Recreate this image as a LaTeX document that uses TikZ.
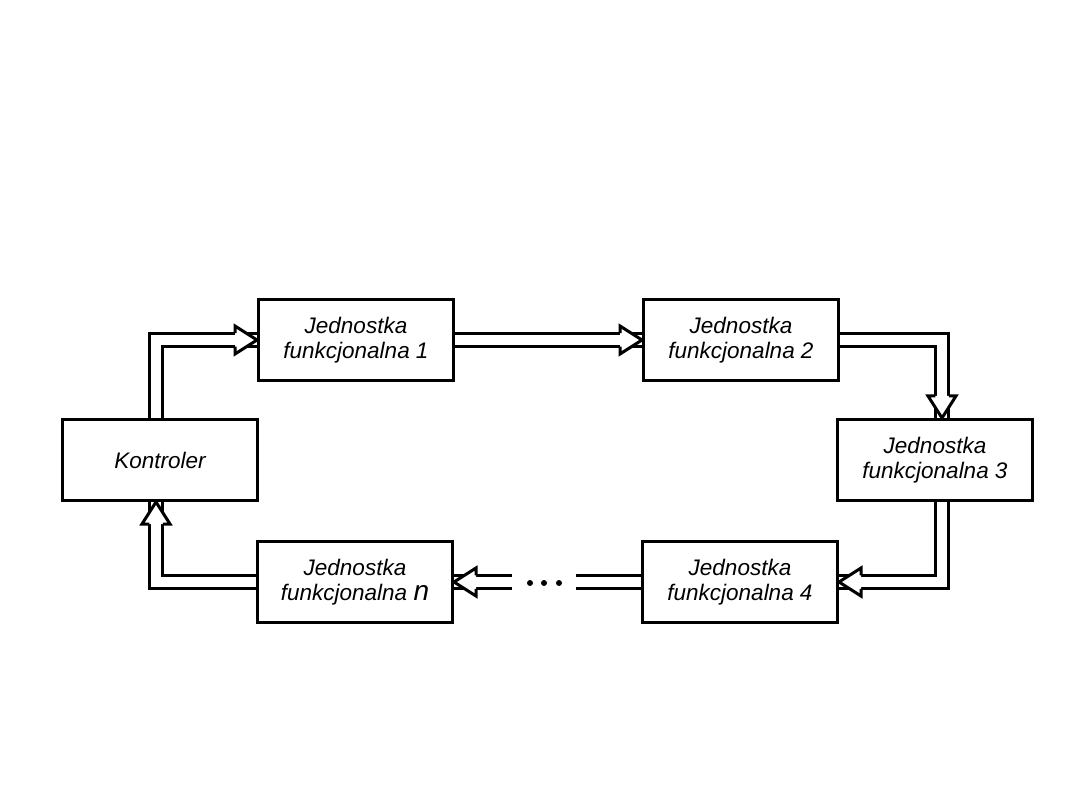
\documentclass[tikz,border=0pt]{standalone}
\usepackage{fontspec}
\setmainfont{Liberation Sans}
\usetikzlibrary{calc}
\begin{document}
\begin{tikzpicture}[x=1pt,y=-1pt,
  unit/.style={draw, line width=3pt, minimum width=195pt, minimum height=81pt,
    inner sep=0pt, align=center, fill=white,
    font=\fontsize{22.5}{25}\selectfont\itshape},
  dbl/.style={double, line width=3pt, double distance=10.5pt, line join=miter},
  dotmark/.style={circle, fill, inner sep=0pt, minimum size=6pt},
  head/.pic={
    \fill[white] (-22,14) -- (0,0) -- (-22,-14) -- cycle;
    \draw[line width=3pt, line join=miter] (-22,6.75) -- (-22,14) -- (0,0) -- (-22,-14) -- (-22,-6.75);
  }
]
\useasboundingbox (0,0) rectangle (1080,810);
\node[unit] (K)  at (160,460) {Kontroler};
\node[unit] (J1) at (356,340) {Jednostka\\funkcjonalna 1};
\node[unit] (J2) at (741,340) {Jednostka\\funkcjonalna 2};
\node[unit] (J3) at (935,460) {Jednostka\\funkcjonalna 3};
\node[unit] (J4) at (740,582) {Jednostka\\funkcjonalna 4};
\node[unit] (Jn) at (355,582) {Jednostka\\funkcjonalna {\fontsize{28}{25}\selectfont n}};
\coordinate (rr) at (576,582);
\coordinate (ll) at (512,582);
\node[dotmark] (d1) at (530,583) {};
\node[dotmark] (d2) at (544,583) {};
\node[dotmark] (d3) at (559,583) {};
% connectors
\draw[dbl] ([xshift=-4pt]K.north) |- (J1.west);
\draw[dbl] (J1.east) -- (J2.west);
\draw[dbl] (J2.east) -| ([xshift=7pt]J3.north);
\draw[dbl] ([xshift=7pt]J3.south) |- (J4.east);
\draw[dbl] (J4.west) -- (rr);
\draw[dbl] (ll) -- (Jn.east);
\draw[dbl] (Jn.west) -| ([xshift=-4pt]K.south);
% arrow heads
\pic at (J1.west) {head};
\pic at (J2.west) {head};
\pic[rotate=-90] at ([xshift=7pt]J3.north) {head};
\pic[rotate=180] at (J4.east) {head};
\pic[rotate=180] at (Jn.east) {head};
\pic[rotate=90] at ([xshift=-4pt]K.south) {head};
\end{tikzpicture}
\end{document}
